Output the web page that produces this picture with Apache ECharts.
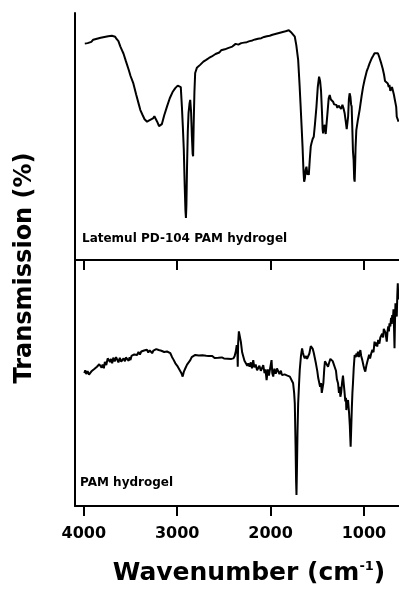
<!DOCTYPE html>
<html>
<head>
<meta charset="utf-8">
<script src="https://cdn.jsdelivr.net/npm/echarts@6/dist/echarts.min.js"></script>
<style>
	html, body { margin: 0; padding: 0; background: #fff; }
	#chart { width: 399px; height: 589px; }
</style>
</head>
<body>
<div id="chart"></div>
<script>
	// x tick labels (wavenumber, cm-1)
	var wnTicks = [4000, 3000, 2000, 1000];

	// [wavenumber, transmission]
	var latemulSpectrum = [
		[3990, 87.6], [3975, 88.2], [3960, 87.8], [3940, 88.6], [3920, 88.3], [3900, 89.2], [3880, 88.8], [3860, 89.6],
		[3840, 89.1], [3820, 90.0], [3800, 89.5], [3780, 90.3], [3760, 89.8], [3740, 90.6], [3720, 90.0], [3700, 90.8],
		[3690, 90.2], [3680, 91.0], [3665, 90.4], [3650, 89.5], [3630, 88.6], [3610, 86.5], [3590, 84.8], [3576, 83.6],
		[3550, 80.5], [3520, 77.0], [3500, 74.5], [3470, 71.5], [3440, 67.0], [3410, 62.8], [3395, 60.7], [3370, 58.6],
		[3350, 57.0], [3323, 56.0], [3300, 56.5], [3280, 56.2], [3260, 57.3], [3245, 58.2], [3235, 57.8], [3215, 56.0],
		[3195, 54.2], [3181, 53.4], [3165, 55.0], [3140, 58.5], [3110, 62.1], [3080, 65.5], [3050, 68.0], [3021, 69.6],
		[2995, 70.6], [2975, 71.2], [2962, 70.0], [2950, 62.0], [2940, 54.0], [2930, 45.0], [2920, 30.0], [2912, 20.0],
		[2907, 17.0], [2902, 22.0], [2895, 38.0], [2887, 52.0], [2879, 59.5], [2868, 63.5], [2861, 64.8], [2852, 60.0],
		[2843, 50.0], [2835, 43.0], [2830, 42.0], [2824, 55.0], [2816, 68.0], [2808, 75.7], [2790, 77.8], [2770, 78.6],
		[2755, 79.0], [2720, 80.3], [2690, 81.0], [2660, 81.8], [2630, 82.4], [2613, 83.0], [2590, 83.4], [2570, 84.2],
		[2550, 84.0], [2530, 84.9], [2510, 84.5], [2490, 85.3], [2470, 85.0], [2450, 85.9], [2430, 85.4], [2410, 86.4],
		[2390, 86.0], [2375, 87.5], [2363, 86.8], [2345, 87.2], [2330, 86.6], [2315, 87.8], [2300, 87.2], [2285, 88.0],
		[2270, 87.3], [2255, 88.2], [2240, 87.6], [2225, 88.6], [2210, 87.8], [2195, 88.9], [2180, 88.2], [2165, 89.3],
		[2150, 88.5], [2135, 89.6], [2114, 88.9], [2100, 89.8], [2085, 89.2], [2070, 90.3], [2055, 89.6], [2040, 90.6],
		[2025, 89.8], [2010, 90.8], [1995, 90.1], [1980, 91.2], [1965, 90.5], [1950, 91.5], [1936, 90.9], [1920, 91.8],
		[1900, 91.6], [1880, 92.2], [1860, 92.0], [1840, 92.6], [1820, 92.4], [1805, 93.0], [1794, 92.6], [1775, 92.0],
		[1760, 91.2], [1741, 90.4], [1725, 87.0], [1705, 81.0], [1690, 71.0], [1680, 63.4], [1668, 54.0], [1658, 45.9],
		[1648, 36.0], [1641, 31.7], [1633, 33.0], [1625, 36.5], [1616, 37.8], [1605, 34.5], [1598, 36.0], [1591, 34.4],
		[1580, 41.0], [1570, 46.0], [1563, 47.2], [1550, 49.0], [1538, 49.9], [1525, 55.0], [1509, 62.1], [1495, 70.0],
		[1481, 74.2], [1470, 72.5], [1460, 68.5], [1450, 60.0], [1443, 53.0], [1438, 51.3], [1430, 53.5], [1420, 54.7],
		[1410, 51.0], [1402, 51.3], [1390, 60.0], [1378, 65.5], [1367, 66.8], [1355, 65.0], [1345, 64.6], [1331, 64.1],
		[1320, 63.0], [1308, 63.5], [1296, 62.8], [1285, 61.6], [1272, 62.5], [1260, 62.1], [1245, 61.2], [1231, 62.8],
		[1220, 61.5], [1207, 59.4], [1195, 56.0], [1185, 53.0], [1178, 52.6], [1170, 58.0], [1162, 65.0], [1154, 67.5],
		[1145, 66.0], [1138, 63.0], [1132, 62.1], [1124, 52.0], [1118, 44.0], [1111, 40.5], [1105, 33.0], [1100, 31.7],
		[1095, 38.0], [1090, 45.7], [1082, 52.6], [1065, 56.8], [1047, 60.7], [1025, 66.5], [1010, 70.0], [994, 72.9],
		[970, 76.5], [955, 78.0], [940, 79.6], [915, 81.8], [900, 82.8], [887, 83.7], [870, 84.4], [851, 83.7],
		[835, 82.0], [815, 79.6], [800, 77.5], [785, 75.0], [775, 72.5], [762, 72.2], [745, 71.5], [735, 70.0],
		[727, 70.9], [718, 68.5], [709, 68.8], [700, 70.0], [691, 69.5], [680, 67.0], [670, 65.0], [663, 64.8],
		[655, 62.0], [649, 58.0], [640, 58.5], [630, 56.0]
	];

	// [wavenumber, transmission]
	var pamSpectrum = [
		[3995, 54.0], [3985, 55.2], [3975, 53.6], [3960, 54.8], [3945, 53.4], [3928, 53.7], [3915, 54.9], [3900, 54.4],
		[3885, 55.8], [3875, 55.3], [3860, 56.6], [3845, 56.0], [3835, 57.6], [3822, 58.0], [3810, 56.2], [3800, 57.5],
		[3786, 56.0], [3775, 58.6], [3760, 57.3], [3745, 60.0], [3733, 60.7], [3720, 58.5], [3710, 59.8], [3697, 58.0],
		[3685, 60.3], [3670, 58.8], [3655, 60.5], [3644, 60.0], [3630, 58.4], [3615, 60.2], [3600, 58.7], [3590, 58.7],
		[3575, 60.0], [3560, 58.8], [3550, 60.4], [3537, 60.7], [3520, 59.0], [3510, 60.5], [3501, 59.3], [3490, 61.0],
		[3475, 60.2], [3460, 61.6], [3445, 60.8], [3430, 61.4], [3415, 62.6], [3400, 61.6], [3385, 62.8], [3370, 62.0],
		[3355, 63.2], [3341, 62.7], [3325, 63.5], [3310, 62.4], [3295, 63.3], [3280, 62.6], [3269, 62.1], [3255, 63.2],
		[3240, 62.8], [3225, 63.8], [3210, 63.0], [3199, 63.4], [3185, 64.0], [3170, 63.1], [3155, 63.5], [3140, 62.6],
		[3127, 62.7], [3110, 62.8], [3095, 62.0], [3074, 62.1], [3055, 60.5], [3040, 59.5], [3020, 58.0], [3000, 57.0],
		[2985, 56.0], [2967, 55.3], [2955, 54.0], [2942, 52.6], [2930, 54.5], [2913, 56.0], [2895, 57.5], [2880, 58.0],
		[2860, 59.3], [2845, 60.5], [2830, 60.2], [2807, 61.4], [2790, 60.6], [2770, 61.2], [2750, 60.8], [2730, 61.3],
		[2710, 60.5], [2690, 61.1], [2665, 61.0], [2645, 60.4], [2625, 61.0], [2600, 60.2], [2580, 60.9], [2560, 60.3],
		[2540, 60.8], [2522, 60.4], [2500, 60.0], [2480, 60.7], [2460, 59.9], [2440, 60.5], [2420, 59.8], [2398, 60.0],
		[2385, 61.0], [2372, 63.0], [2363, 65.4], [2356, 63.0], [2352, 56.6], [2348, 66.0], [2340, 71.0], [2330, 71.5],
		[2319, 66.8], [2305, 62.5], [2292, 60.7], [2280, 59.0], [2265, 58.8], [2250, 57.0], [2239, 58.0], [2225, 56.6],
		[2212, 58.4], [2200, 56.0], [2186, 59.3], [2175, 56.4], [2160, 57.5], [2145, 55.2], [2132, 55.3], [2120, 57.0],
		[2105, 55.0], [2090, 56.2], [2079, 57.3], [2065, 54.0], [2055, 55.5], [2043, 51.2], [2030, 55.5], [2018, 53.0],
		[2005, 56.0], [1990, 59.3], [1982, 54.0], [1972, 52.6], [1960, 55.8], [1945, 53.8], [1932, 55.9], [1919, 55.3],
		[1905, 53.6], [1890, 55.0], [1878, 53.2], [1866, 53.9], [1850, 53.5], [1835, 54.1], [1820, 53.0], [1806, 53.3],
		[1794, 52.6], [1775, 51.8], [1759, 49.9], [1748, 46.0], [1741, 41.7], [1733, 25.0], [1727, 10.0], [1723, 4.5],
		[1718, 15.0], [1712, 30.0], [1705, 41.7], [1695, 50.0], [1688, 55.3], [1675, 61.0], [1663, 64.1], [1655, 62.5],
		[1645, 61.0], [1634, 60.0], [1620, 61.0], [1610, 59.8], [1599, 59.3], [1585, 62.0], [1570, 65.0], [1563, 65.4],
		[1550, 64.0], [1538, 62.3], [1527, 62.1], [1515, 58.0], [1500, 54.8], [1490, 52.0], [1481, 51.2], [1470, 48.5],
		[1460, 50.0], [1452, 46.0], [1445, 46.5], [1435, 50.0], [1425, 56.0], [1418, 58.8], [1410, 59.3], [1398, 58.0],
		[1385, 56.6], [1375, 58.0], [1360, 59.8], [1349, 59.3], [1335, 58.9], [1325, 59.5], [1314, 58.7], [1300, 55.0],
		[1290, 51.5], [1278, 49.9], [1268, 46.0], [1260, 48.5], [1253, 44.4], [1245, 46.0], [1235, 50.0], [1225, 53.0],
		[1218, 52.6], [1210, 47.0], [1200, 42.5], [1193, 44.0], [1189, 39.0], [1180, 42.0], [1171, 43.1], [1160, 38.0],
		[1152, 33.0], [1147, 28.0], [1143, 24.1], [1138, 30.0], [1130, 40.0], [1124, 46.0], [1118, 49.9], [1110, 56.0],
		[1100, 61.4], [1090, 60.5], [1080, 62.0], [1072, 60.8], [1065, 62.7], [1055, 60.5], [1047, 62.0], [1039, 63.4],
		[1030, 61.0], [1018, 59.3], [1005, 57.0], [995, 55.5], [986, 54.6], [975, 57.0], [965, 58.5], [958, 59.3],
		[945, 61.5], [935, 60.0], [922, 62.1], [910, 63.5], [898, 62.5], [887, 66.8], [875, 65.0], [866, 66.5],
		[858, 64.8], [848, 67.5], [835, 66.0], [825, 68.5], [815, 68.2], [805, 70.0], [795, 68.5], [788, 72.0],
		[780, 72.2], [770, 70.5], [762, 70.0], [756, 66.8], [748, 71.0], [740, 73.0], [733, 71.0], [727, 74.3],
		[718, 73.0], [710, 76.5], [703, 74.0], [698, 77.6], [690, 76.0], [684, 80.0], [678, 72.0], [673, 64.1],
		[668, 75.0], [663, 82.4], [656, 78.0], [649, 77.0], [643, 86.0], [638, 90.5], [632, 84.0], [628, 88.0]
	];

	var panelNames = ['Latemul PD-104 PAM hydrogel', 'PAM hydrogel'];

	var ink = '#000';
	var font = 'DejaVu Sans';
	var wnMin = 625, wnMax = 4095;

	var plainLine = { show: true, onZero: false, lineStyle: { color: ink, width: 2 } };

	var option = {
		animation: false,
		backgroundColor: '#fff',
		grid: [
			{ left: 75, right: 0, top: 13, height: 247 },
			{ left: 75, right: 0, top: 260, height: 246 }
		],
		xAxis: [{
			gridIndex: 0,
			type: 'value',
			inverse: true,
			min: wnMin,
			max: wnMax,
			position: 'bottom',
			axisLine: plainLine,
			axisTick: { show: false },
			axisLabel: { show: false },
			splitLine: { show: false }
		}, {
			gridIndex: 1,
			type: 'value',
			inverse: true,
			min: wnMin,
			max: wnMax,
			position: 'bottom',
			axisLine: plainLine,
			axisTick: {
				show: true,
				length: 10,
				customValues: wnTicks,
				lineStyle: { color: ink, width: 2 }
			},
			axisLabel: {
				customValues: wnTicks,
				formatter: function (v) { return String(v); },
				color: ink,
				fontFamily: font,
				fontWeight: 'bold',
				fontSize: 16,
				margin: 20
			},
			splitLine: { show: false }
		}, {
			gridIndex: 1,
			type: 'value',
			inverse: true,
			min: wnMin,
			max: wnMax,
			position: 'top',
			axisLine: plainLine,
			axisTick: {
				show: true,
				inside: true,
				length: 10,
				customValues: wnTicks,
				lineStyle: { color: ink, width: 2 }
			},
			axisLabel: { show: false },
			splitLine: { show: false }
		}],
		yAxis: [{
			gridIndex: 0,
			type: 'value',
			min: 0,
			max: 100,
			axisLine: plainLine,
			axisTick: { show: false },
			axisLabel: { show: false },
			splitLine: { show: false }
		}, {
			gridIndex: 1,
			type: 'value',
			min: 0,
			max: 100,
			axisLine: plainLine,
			axisTick: { show: false },
			axisLabel: { show: false },
			splitLine: { show: false }
		}],
		series: [{
			name: panelNames[0],
			type: 'line',
			xAxisIndex: 0,
			yAxisIndex: 0,
			showSymbol: false,
			lineStyle: { color: ink, width: 2 },
			data: latemulSpectrum
		}, {
			name: panelNames[1],
			type: 'line',
			xAxisIndex: 1,
			yAxisIndex: 1,
			showSymbol: false,
			lineStyle: { color: ink, width: 2 },
			data: pamSpectrum
		}],
		graphic: [{
			type: 'text',
			x: 82,
			y: 239,
			style: {
				text: panelNames[0],
				font: 'bold 12px ' + font,
				fill: ink,
				verticalAlign: 'middle'
			}
		}, {
			type: 'text',
			x: 80,
			y: 483,
			style: {
				text: panelNames[1],
				font: 'bold 12px ' + font,
				fill: ink,
				verticalAlign: 'middle'
			}
		}, {
			type: 'text',
			x: 25,
			y: 268,
			rotation: Math.PI / 2,
			style: {
				text: 'Transmission (%)',
				font: 'bold 24px ' + font,
				fill: ink,
				align: 'center',
				verticalAlign: 'middle'
			}
		}, {
			type: 'text',
			x: 249,
			y: 573,
			style: {
				text: '{n|Wavenumber (cm}{s|-1}{n|)}',
				fill: ink,
				align: 'center',
				verticalAlign: 'middle',
				rich: {
					n: { fontSize: 25, fontWeight: 'bold', fontFamily: font, fill: ink },
					s: { fontSize: 13, fontWeight: 'bold', fontFamily: font, fill: ink, verticalAlign: 'top', lineHeight: 14 }
				}
			}
		}]
	};

	var myChart = echarts.init(document.getElementById('chart'));
	myChart.setOption(option);
</script>
</body>
</html>
